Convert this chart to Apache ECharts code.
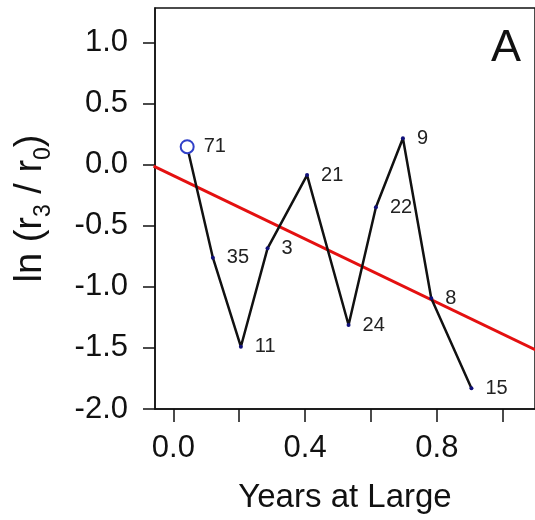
<!DOCTYPE html>
<html>
<head>
<meta charset="utf-8">
<script src="https://cdn.jsdelivr.net/npm/echarts@6/dist/echarts.min.js"></script>
<style>html,body{margin:0;padding:0;background:#fff;}#c{width:535px;height:520px;}</style>
</head>
<body>
<div id="c"></div>
<script>
// Data
var years = [0.042, 0.120, 0.205, 0.286, 0.406, 0.532, 0.615, 0.697, 0.783, 0.905];
var logRatio = [0.148, -0.761, -1.49, -0.684, -0.084, -1.312, -0.348, 0.217, -1.093, -1.830];
var pointLabels = ['71', '35', '11', '3', '21', '24', '22', '9', '8', '15'];
var fitX = [-0.06, 1.10];
var fitY = [-0.010, -1.517];
var xTicks = [0, 0.2, 0.4, 0.6, 0.8, 1.0];
var xTickLabels = [0, 0.4, 0.8];
var yTicks = [-2.0, -1.5, -1.0, -0.5, 0.0, 0.5, 1.0];

var FONT = '"Liberation Sans", Arial, sans-serif';

var pts = years.map(function (x, i) {
  var first = i === 0;
  return {
    value: [x, logRatio[i]],
    name: pointLabels[i],
    symbol: first ? 'emptyCircle' : 'circle',
    symbolSize: first ? 13 : 4,
    itemStyle: first ? {color: '#3040c8', borderColor: '#3040c8', borderWidth: 1.3} : {color: '#10107a', borderWidth: 0},
    label: {distance: first ? 9 : 12}
  };
});

var chart = echarts.init(document.getElementById('c'), null, {renderer: 'canvas'});
chart.setOption({
  animation: false,
  backgroundColor: '#fff',
  grid: {left: 155, top: 8, right: -3, bottom: 111, show: true, borderColor: '#111', borderWidth: 1.5, backgroundColor: 'transparent'},
  xAxis: {
    type: 'value', min: -0.0557, max: 1.098,
    name: 'Years at Large', nameLocation: 'middle', nameGap: 72,
    nameTextStyle: {fontFamily: FONT, fontSize: 33, color: '#111'},
    axisLine: {show: true, onZero: false, lineStyle: {color: '#111', width: 1.5}},
    axisTick: {show: true, inside: false, length: 13, customValues: xTicks, lineStyle: {color: '#111', width: 1.5}},
    axisLabel: {customValues: xTickLabels, margin: 24, fontFamily: FONT, fontSize: 31, color: '#111',
      formatter: function (v) { return v.toFixed(1); }},
    splitLine: {show: false}
  },
  yAxis: {
    type: 'value', min: -2.0, max: 1.284,
    name: '{a|ln (r}{s|3}{a| / r}{s|0}{a|)}', nameLocation: 'middle', nameGap: 102,
    nameTextStyle: {
      fontFamily: FONT, color: '#111',
      rich: {
        a: {fontFamily: FONT, fontSize: 38, color: '#111', lineHeight: 44},
        s: {fontFamily: FONT, fontSize: 23, color: '#111', lineHeight: 23, verticalAlign: 'bottom', padding: [0, 0, -2, 0]}
      }
    },
    axisLine: {show: true, onZero: false, lineStyle: {color: '#111', width: 1.5}},
    axisTick: {show: true, inside: false, length: 12, customValues: yTicks, lineStyle: {color: '#111', width: 1.5}},
    axisLabel: {customValues: yTicks, margin: 27, fontFamily: FONT, fontSize: 31, color: '#111',
      formatter: function (v) { return v.toFixed(1); }},
    splitLine: {show: false}
  },
  graphic: [{
    type: 'text', right: 14, top: 26,
    style: {text: 'A', fontFamily: FONT, fontSize: 45, fill: '#111'}
  }],
  series: [
    {
      type: 'line', data: fitX.map(function (x, i) { return [x, fitY[i]]; }),
      symbol: 'none', lineStyle: {color: '#e41010', width: 3}, z: 3, clip: true
    },
    {
      type: 'line', data: pts, z: 4,
      lineStyle: {color: '#111', width: 2.5},
      label: {show: true, position: 'right', fontFamily: FONT, fontSize: 20, color: '#222',
        formatter: function (p) { return p.name; }}
    }
  ]
});
</script>
</body>
</html>
